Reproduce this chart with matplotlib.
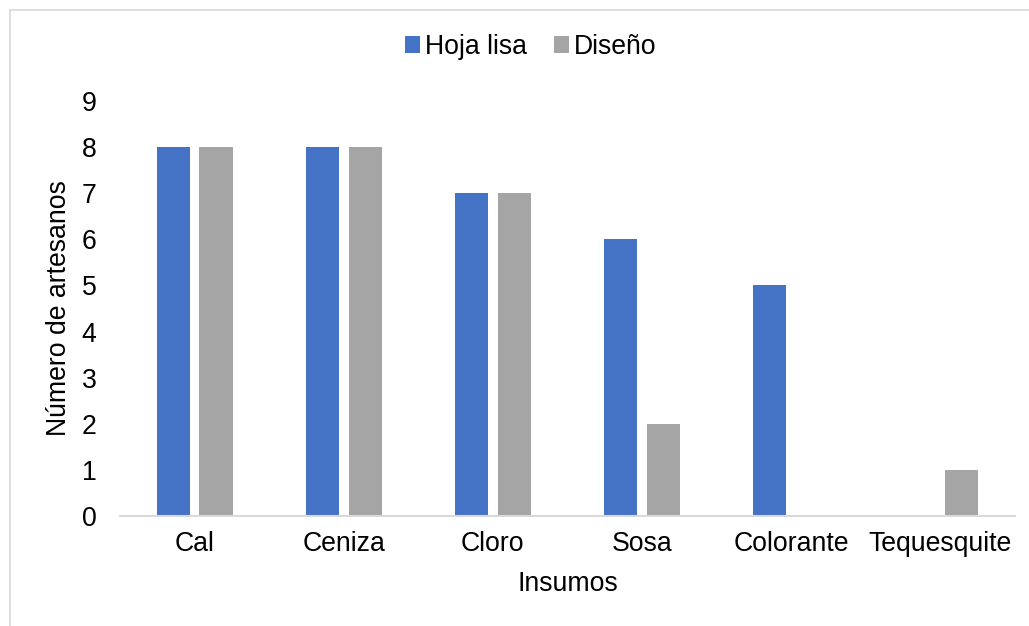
import matplotlib
matplotlib.use('Agg')
import matplotlib.pyplot as plt
import numpy as np
from matplotlib.lines import Line2D

# insumos usados por los artesanos
insumos = ['Cal', 'Ceniza', 'Cloro', 'Sosa', 'Colorante', 'Tequesquite']
hoja_lisa = [8, 8, 7, 6, 5, 0]
diseno = [8, 8, 7, 2, 0, 1]

plt.rcParams['font.family'] = ['Liberation Sans', 'DejaVu Sans']
plt.rcParams['font.size'] = 19.2

fig = plt.figure(figsize=(10.29, 6.26), dpi=100)
ax = fig.add_axes([0.1166, 0.1757, 0.8698, 0.663])

x = np.arange(len(insumos))
w = 0.222
ax.bar(x - 0.144, hoja_lisa, width=w, color='#4472C4', label='Hoja lisa')
ax.bar(x + 0.144, diseno, width=w, color='#A5A5A5', label='Diseño')

ax.set_xlim(-0.5, len(insumos) - 0.5)
ax.set_ylim(0, 9)
ax.set_yticks(range(10))
ax.set_xticks(x)
ax.set_xticklabels(insumos)
ax.tick_params(axis='both', length=0, colors='black')
ax.tick_params(axis='y', pad=17)
ax.tick_params(axis='x', pad=11)

for s in ['top', 'right', 'left']:
    ax.spines[s].set_visible(False)
ax.spines['bottom'].set_color('#D9D9D9')
ax.spines['bottom'].set_linewidth(1.5)

ax.set_xlabel('Insumos')
ax.xaxis.set_label_coords(0.5, -0.132)
ax.set_ylabel('Número de artesanos')
ax.yaxis.set_label_coords(-0.054, 0.5)

ax.legend(loc='center', bbox_to_anchor=(0.516, 0.925), bbox_transform=fig.transFigure,
          ncol=2, frameon=False, handlelength=0.55, handleheight=0.55,
          handletextpad=0.2, columnspacing=1.0)

# marco del gráfico
fig.add_artist(Line2D([10 / 1029, 10 / 1029], [0, 1 - 10 / 626], color='#D9D9D9', lw=1.2))
fig.add_artist(Line2D([10 / 1029, 1], [1 - 10 / 626, 1 - 10 / 626], color='#D9D9D9', lw=1.2))

fig.savefig('out.png', dpi=100)
